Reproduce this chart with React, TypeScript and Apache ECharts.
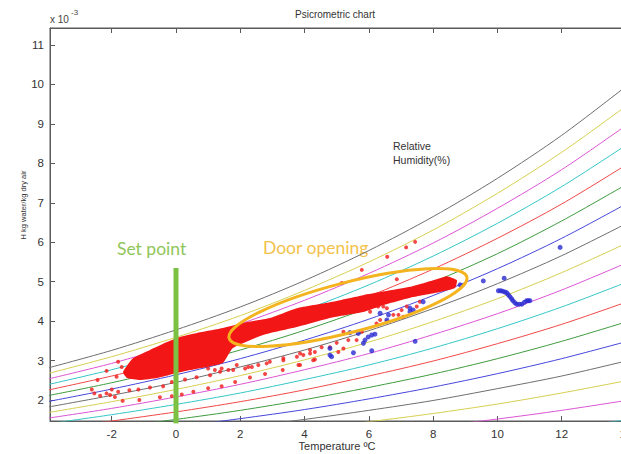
import React, { useEffect, useRef } from "react";
import * as echarts from "echarts";

// ---------- data (H in units of 1e-3 kg water / kg dry air) ----------
const temps = [-4, -2, 0, 2, 4, 6, 8, 10, 12, 14];

const rh100 = [2.81, 3.26, 3.78, 4.36, 5.03, 5.79, 6.65, 7.62, 8.71, 9.95];
const rh95 = [2.67, 3.10, 3.59, 4.14, 4.78, 5.50, 6.31, 7.24, 8.28, 9.45];
const rh90 = [2.53, 2.93, 3.40, 3.93, 4.53, 5.21, 5.98, 6.86, 7.84, 8.96];
const rh85 = [2.39, 2.77, 3.21, 3.71, 4.28, 4.92, 5.65, 6.48, 7.41, 8.46];
const rh80 = [2.25, 2.61, 3.02, 3.49, 4.02, 4.63, 5.32, 6.10, 6.97, 7.96];
const rh75 = [2.11, 2.44, 2.83, 3.27, 3.77, 4.34, 4.99, 5.71, 6.54, 7.46];
const rh70 = [1.96, 2.28, 2.64, 3.05, 3.52, 4.05, 4.65, 5.33, 6.10, 6.97];
const rh65 = [1.82, 2.12, 2.45, 2.84, 3.27, 3.76, 4.32, 4.95, 5.66, 6.47];
const rh60 = [1.68, 1.96, 2.27, 2.62, 3.02, 3.47, 3.99, 4.57, 5.23, 5.97];
const rh55 = [1.54, 1.79, 2.08, 2.40, 2.77, 3.18, 3.66, 4.19, 4.79, 5.47];
const rh50 = [1.40, 1.63, 1.89, 2.18, 2.52, 2.89, 3.32, 3.81, 4.36, 4.98];
const rh45 = [1.26, 1.47, 1.70, 1.96, 2.26, 2.61, 2.99, 3.43, 3.92, 4.48];
const rh40 = [1.12, 1.30, 1.51, 1.74, 2.01, 2.32, 2.66, 3.05, 3.49, 3.98];
const rh35 = [0.98, 1.14, 1.32, 1.53, 1.76, 2.03, 2.33, 2.67, 3.05, 3.48];
const rh30 = [0.84, 0.98, 1.13, 1.31, 1.51, 1.74, 1.99, 2.29, 2.61, 2.99];
const rh25 = [0.70, 0.81, 0.94, 1.09, 1.26, 1.45, 1.66, 1.90, 2.18, 2.49];
const rh20 = [0.56, 0.65, 0.76, 0.87, 1.01, 1.16, 1.33, 1.52, 1.74, 1.99];
const rh15 = [0.42, 0.49, 0.57, 0.65, 0.75, 0.87, 1.00, 1.14, 1.31, 1.49];

const curves = [rh100, rh95, rh90, rh85, rh80, rh75, rh70, rh65, rh60, rh55, rh50, rh45, rh40, rh35, rh30, rh25, rh20, rh15];
const curveNames = ["100%", "95%", "90%", "85%", "80%", "75%", "70%", "65%", "60%", "55%", "50%", "45%", "40%", "35%", "30%", "25%", "20%", "15%"];

// outline of the dense red cloud of measurements (T, H)
const redCloudUpper = [
  [-1.65, 2.71], [-1.34, 3.06], [-0.81, 3.27], [-0.28, 3.47], [0.12, 3.60], [0.75, 3.72],
  [1.46, 3.83], [2.21, 3.98], [2.92, 4.08], [3.76, 4.33], [4.79, 4.48], [5.82, 4.66],
  [7.28, 4.87], [8.21, 5.09], [8.43, 5.14], [8.74, 5.04],
];
const redCloudLower = [
  [8.68, 4.84], [8.21, 4.74], [7.37, 4.61], [6.35, 4.38], [5.82, 4.23], [4.79, 4.08],
  [3.76, 3.85], [2.71, 3.65], [1.77, 3.32], [1.46, 2.94], [0.96, 2.84], [0.44, 2.76],
  [-0.09, 2.66], [-0.59, 2.56], [-1.12, 2.51], [-1.52, 2.56],
];

const redPoints = [
  [-2.16, 2.74], [-1.80, 2.97], [-1.69, 2.84], [-2.44, 2.51], [-1.85, 2.59], [-2.62, 2.27],
  [-2.54, 2.17], [-2.36, 2.11], [-2.16, 2.17], [-2.00, 2.27], [-1.90, 2.08], [-2.05, 2.13],
  [-1.80, 2.21], [-1.66, 1.98], [-1.45, 2.25], [-1.17, 2.27], [-1.14, 2.00], [-0.81, 2.32],
  [-0.50, 2.07], [-0.40, 2.35], [-0.13, 2.46], [-0.13, 2.10], [0.28, 2.52], [0.18, 2.14],
  [0.64, 2.58], [0.54, 2.21], [1.00, 2.30], [1.06, 2.63], [1.42, 2.35], [1.37, 2.72],
  [1.84, 2.46], [1.78, 2.76], [2.30, 2.57], [2.25, 2.84], [2.77, 2.66], [2.82, 2.93],
  [3.32, 2.76], [3.34, 3.01], [3.81, 2.89], [3.96, 3.14], [4.27, 3.01], [4.32, 3.22],
  [1.00, 2.80], [1.21, 2.76], [1.42, 2.80], [1.63, 2.76], [1.89, 2.89], [2.15, 2.80],
  [2.36, 2.84], [2.56, 2.89], [5.78, 5.30], [6.87, 5.06], [5.16, 4.97], [6.04, 4.24],
  [6.29, 4.37], [6.45, 4.37], [6.24, 3.94], [6.35, 4.03], [6.56, 3.99], [6.92, 4.16],
  [7.07, 4.11], [7.18, 4.37], [5.21, 3.73], [5.36, 3.52], [5.62, 3.52], [5.78, 3.73],
  [5.00, 3.45], [4.79, 3.34], [4.53, 3.34], [4.17, 3.27], [4.17, 3.18], [3.86, 3.18],
  [3.76, 3.10], [3.34, 3.06], [2.92, 2.97], [4.32, 3.03], [3.86, 2.89], [5.21, 3.31],
  [5.05, 3.22], [6.57, 5.63], [7.16, 5.87], [7.44, 6.01], [6.56, 4.33], [6.76, 4.16],
  [7.02, 4.28], [7.49, 4.37], [7.59, 4.49],
];

const bluePoints = [
  [11.95, 5.87], [9.56, 5.02], [10.21, 5.09],
  [10.03, 4.77], [10.10, 4.77], [10.16, 4.76], [10.23, 4.74], [10.29, 4.72], [10.34, 4.67],
  [10.39, 4.62], [10.44, 4.57], [10.48, 4.52], [10.54, 4.47], [10.60, 4.43], [10.68, 4.43],
  [10.76, 4.43], [10.84, 4.48], [10.91, 4.52], [10.96, 4.52], [11.01, 4.52],
  [8.84, 4.92], [7.69, 4.49], [7.28, 4.33], [7.38, 4.28], [7.28, 4.24], [6.35, 4.20],
  [6.56, 4.03], [6.61, 4.16], [5.41, 3.71], [5.67, 3.69], [5.88, 3.52], [5.98, 3.60],
  [6.09, 3.65], [6.19, 3.67], [5.83, 3.44], [4.79, 3.31], [4.79, 3.14], [4.84, 3.10],
  [5.52, 3.20], [6.09, 3.25], [7.44, 3.49],
];

const setPointLine = [[0, 1.4], [0, 5.35]];
const doorEllipseEnds = [[1.65, 3.57], [9.05, 5.12]];

const xTicks = [-2, 0, 2, 4, 6, 8, 10, 12, 14];
const yTicks = [2, 3, 4, 5, 6, 7, 8, 9, 10, 11];

// ---------- styling ----------
const cycle = ["#6e6e6e", "#d6cf50", "#dc55d4", "#36c6c6", "#f04848", "#3f9b3f", "#4646dc"];
const FONT = "'Liberation Sans', Arial, sans-serif";
const AXIS_COLOR = "#5a5a5a";

export default function App() {
  const ref = useRef<HTMLDivElement>(null);

  useEffect(() => {
    if (!ref.current) return;
    const chart = echarts.init(ref.current, undefined, { renderer: "svg" });

    const curveSeries = curves.map((vals, i) => ({
      type: "line",
      name: curveNames[i],
      data: temps.map((t, k) => [t, vals[k]]),
      smooth: 0.3,
      symbol: "none",
      lineStyle: { width: 1, color: cycle[i % 7] },
      z: 2,
      silent: true,
    }));

    const cloud = [...redCloudUpper, ...redCloudLower];

    const axisCommon = {
      type: "value",
      axisLine: { show: true, onZero: false, lineStyle: { color: AXIS_COLOR, width: 1 } },
      splitLine: { show: false },
    };

    chart.setOption({
      animation: false,
      grid: {
        left: 50,
        top: 28,
        width: 576,
        height: 393,
        containLabel: false,
        outerBoundsMode: "none",
        show: true,
        borderColor: AXIS_COLOR,
        borderWidth: 1,
        backgroundColor: "transparent",
      },
      xAxis: [
        {
          ...axisCommon,
          position: "bottom",
          min: -3.92,
          max: 14,
          axisTick: { show: true, inside: true, length: 5, customValues: xTicks, lineStyle: { color: AXIS_COLOR } },
          axisLabel: { show: true, customValues: xTicks, color: "#333", fontSize: 11.5, fontFamily: FONT, margin: 7 },
        },
        {
          ...axisCommon,
          position: "top",
          min: -3.92,
          max: 14,
          axisTick: { show: true, inside: true, length: 5, customValues: xTicks, lineStyle: { color: AXIS_COLOR } },
          axisLabel: { show: false },
        },
      ],
      yAxis: [
        {
          ...axisCommon,
          position: "left",
          min: 1.47,
          max: 11.43,
          axisTick: { show: true, inside: true, length: 5, customValues: yTicks, lineStyle: { color: AXIS_COLOR } },
          axisLabel: { show: true, customValues: yTicks, color: "#333", fontSize: 11.5, fontFamily: FONT, margin: 6 },
        },
      ],
      series: [
        ...curveSeries,
        {
          type: "custom",
          name: "cloud",
          xAxisIndex: 0,
          yAxisIndex: 0,
          data: [[0, 0]],
          encode: { x: 0, y: 1 },
          z: 3,
          silent: true,
          renderItem: (_params: any, api: any) => ({
            type: "polygon",
            shape: { points: cloud.map((p) => api.coord(p)), smooth: 0.15 },
            style: { fill: "#f21616" },
          }),
        },
        {
          type: "scatter",
          name: "red",
          data: redPoints,
          symbol: "circle",
          symbolSize: 4,
          itemStyle: { color: "#f01a1a" },
          z: 4,
          silent: true,
        },
        {
          type: "scatter",
          name: "blue",
          data: bluePoints,
          symbol: "circle",
          symbolSize: 5,
          itemStyle: { color: "#2a2ad2" },
          z: 5,
          silent: true,
        },
        {
          type: "line",
          name: "Set point",
          data: setPointLine,
          symbol: "none",
          lineStyle: { width: 5, color: "#7cc142" },
          z: 6,
          silent: true,
        },
      ],
    });

    const p1 = chart.convertToPixel({ xAxisIndex: 0, yAxisIndex: 0 }, doorEllipseEnds[0]) as number[];
    const p2 = chart.convertToPixel({ xAxisIndex: 0, yAxisIndex: 0 }, doorEllipseEnds[1]) as number[];
    const cx = (p1[0] + p2[0]) / 2;
    const cy = (p1[1] + p2[1]) / 2;
    const rx = Math.hypot(p2[0] - p1[0], p2[1] - p1[1]) / 2;
    const ang = Math.atan2(-(p2[1] - p1[1]), p2[0] - p1[0]);

    chart.setOption({
      graphic: [
        {
          type: "ellipse",
          x: cx,
          y: cy,
          rotation: ang,
          shape: { cx: 0, cy: 0, rx, ry: 25 },
          style: { fill: "none", stroke: "#f4b420", lineWidth: 3 },
          z: 100,
          silent: true,
        },
        {
          type: "text",
          x: 335,
          y: 14,
          style: { text: "Psicrometric chart", fill: "#333", font: `10px ${FONT}`, textAlign: "center", textVerticalAlign: "middle" },
        },
        {
          type: "text",
          x: 50,
          y: 19,
          style: { text: "x 10", fill: "#444", font: `10px ${FONT}`, textAlign: "left", textVerticalAlign: "middle" },
        },
        {
          type: "text",
          x: 71,
          y: 12,
          style: { text: "-3", fill: "#444", font: `8px ${FONT}`, textAlign: "left", textVerticalAlign: "middle" },
        },
        {
          type: "text",
          x: 337,
          y: 446,
          style: { text: "Temperature ºC", fill: "#333", font: `11px ${FONT}`, textAlign: "center", textVerticalAlign: "middle" },
        },
        {
          type: "text",
          x: 23,
          y: 205,
          rotation: Math.PI / 2,
          style: { text: "H kg water/kg dry air", fill: "#333", font: `7.5px ${FONT}`, textAlign: "center", textVerticalAlign: "middle" },
        },
        {
          type: "text",
          x: 393,
          y: 146,
          style: { text: "Relative", fill: "#333", font: `10.5px ${FONT}`, textAlign: "left", textVerticalAlign: "middle" },
        },
        {
          type: "text",
          x: 393,
          y: 160,
          style: { text: "Humidity(%)", fill: "#333", font: `10.5px ${FONT}`, textAlign: "left", textVerticalAlign: "middle" },
        },
        {
          type: "text",
          x: 117,
          y: 248,
          style: { text: "Set point", fill: "#8fc65a", font: `17.5px Lato, 'Open Sans', sans-serif`, textAlign: "left", textVerticalAlign: "middle" },
        },
        {
          type: "text",
          x: 263,
          y: 247,
          style: { text: "Door opening", fill: "#f3c24c", font: `17.5px Lato, 'Open Sans', sans-serif`, textAlign: "left", textVerticalAlign: "middle" },
        },
      ],
    });

    return () => chart.dispose();
  }, []);

  return (
    <div
      ref={ref}
      style={{ position: "absolute", left: 0, top: 0, width: 621, height: 454, background: "#fff" }}
    />
  );
}
